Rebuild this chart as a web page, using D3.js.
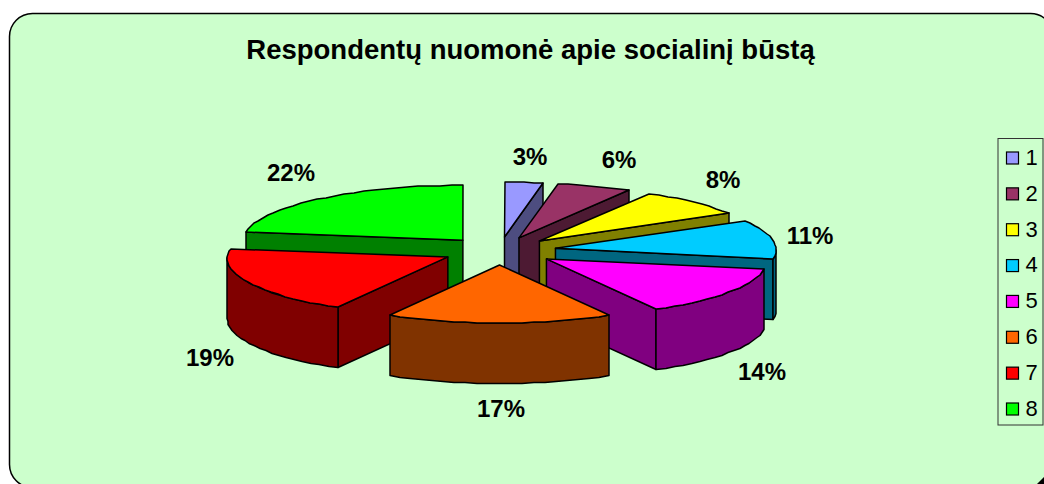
<!DOCTYPE html>
<html><head><meta charset="utf-8">
<script src="https://cdn.jsdelivr.net/npm/d3@7"></script>
<style>html,body{margin:0;padding:0;background:#fff;overflow:hidden}svg{display:block}text{font-family:"Liberation Sans",Arial,sans-serif}</style>
</head><body><svg id="c" width="1044" height="484"></svg>
<script>
const titleText = "Respondentų nuomonė apie socialinį būstą";
const categories = ["1","2","3","4","5","6","7","8"];
const values = [2.8,5.5,8.1,11.1,14.2,16.6,19.5,22.2];
const valueLabels = ["3%","6%","8%","11%","14%","17%","19%","22%"];
const topColors = ["#9999FF","#993366","#FFFF00","#00CCFF","#FF00FF","#FF6600","#FF0000","#00FF00"];
const sideColors = ["#4D4D80","#4D1A33","#808000","#006680","#800080","#803300","#800000","#008000"];
const drawOrder = [0,1,2,7,3,6,4,5];
const labelPos = [[530,156],[619,159],[723,179],[810,235],[762,371],[501,408],[210,357],[291,172]];

const svg=d3.select("#c");
svg.append("rect").attr("x",9.5).attr("y",13.5).attr("width",1044).attr("height",474).attr("rx",23).attr("ry",23)
  .attr("fill","#CCFFCC").attr("stroke","#000").attr("stroke-width",1.5);
svg.append("path").attr("d","M1037,484L1044,477L1044,484Z").attr("fill","#000");
svg.append("text").attr("x",530.5).attr("y",59).attr("text-anchor","middle").attr("font-size",27.5).attr("font-weight","bold").attr("fill","#000").text(titleText);

const cx=499.5,cy=251,rx=220.5,explX=57,explY=14,depth=60.5;
const pie=d3.pie().sort(null).value(d=>d).startAngle(0).endAngle(2*Math.PI);
const arcs=pie(values);
const sx=d3.scaleLinear().domain([-1,1]).range([-rx,rx]);
const sy=d3.scaleLinear().domain([-1,1]).range([58,-55]);
const line=d3.line().x(d=>d[0]).y(d=>d[1]);
const step=Math.PI/60;
function sample(a0,a1){const n=Math.max(1,Math.ceil((a1-a0)/step));return d3.range(n+1).map(i=>a0+(a1-a0)*i/n);}
function wallPieces(a0,a1){
  const lo=Math.max(a0,Math.PI/2),hi=Math.min(a1,3*Math.PI/2);
  return hi>lo?[lo,hi]:null;
}
const g=svg.append("g");
drawOrder.forEach(i=>{
  const a=arcs[i],mid=(a.startAngle+a.endAngle)/2;
  const ax=cx+explX*Math.sin(mid),ay=cy-explY*Math.cos(mid);
  const P=t=>[Math.round(ax+sx(Math.sin(t))),Math.round(ay+sy(Math.cos(t)))];
  const down=p=>[p[0],p[1]+depth];
  const apex=[ax,ay];
  const S=g.append("g").attr("stroke","#000").attr("stroke-width",1.5).attr("stroke-linejoin","round");
  if(Math.sin(a.startAngle)<-1e-6){
    const p=P(a.startAngle);
    S.append("path").attr("d",line([apex,p,down(p),down(apex)])+"Z").attr("fill",sideColors[i]);
  }
  if(Math.sin(a.endAngle)>1e-6){
    const p=P(a.endAngle);
    S.append("path").attr("d",line([apex,p,down(p),down(apex)])+"Z").attr("fill",sideColors[i]);
  }
  const w=wallPieces(a.startAngle,a.endAngle);
  if(w){
    const pts=sample(w[0],w[1]).map(P);
    S.append("path").attr("d",line(pts.concat(pts.slice().reverse().map(down)))+"Z").attr("fill",sideColors[i]);
  }
  const rim=sample(a.startAngle,a.endAngle).map(P);
  S.append("path").attr("d",line([apex].concat(rim))+"Z").attr("fill",topColors[i]);
});
svg.append("g").selectAll("text").data(arcs).join("text")
  .attr("x",(d,i)=>labelPos[i][0]).attr("y",(d,i)=>labelPos[i][1]).attr("dy","0.36em")
  .attr("text-anchor","middle").attr("font-size",24).attr("font-weight","bold").attr("fill","#000")
  .text((d,i)=>valueLabels[i]);

const lg=svg.append("g");
lg.append("rect").attr("x",998).attr("y",138.5).attr("width",45).attr("height",286.5).attr("fill","none").attr("stroke","#333").attr("stroke-width",1);
const ly=d3.scalePoint().domain(categories).range([158,409]);
categories.forEach((c,i)=>{
  lg.append("rect").attr("x",1006.5).attr("y",ly(c)-6).attr("width",12).attr("height",12).attr("fill",topColors[i]).attr("stroke","#000").attr("stroke-width",1.2);
  lg.append("text").attr("x",1025.5).attr("y",ly(c)-1).attr("dy","0.36em").attr("font-size",22).attr("fill","#000").text(c);
});
</script></body></html>
